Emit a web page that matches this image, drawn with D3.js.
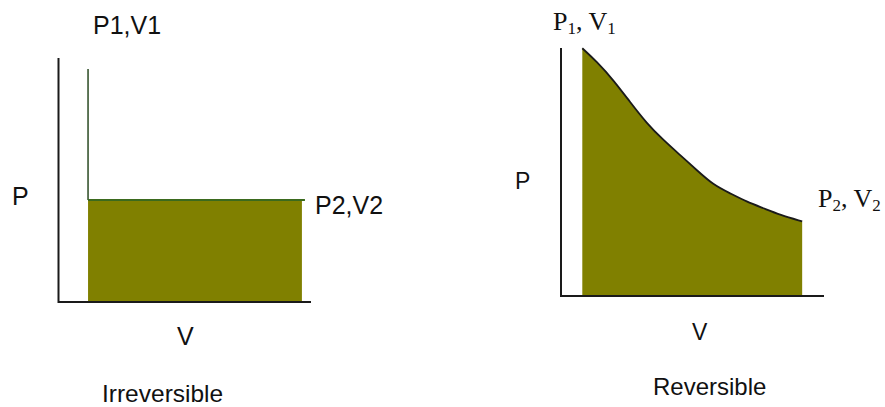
<!DOCTYPE html>
<html>
<head>
<meta charset="utf-8">
<script src="https://cdn.jsdelivr.net/npm/d3@7"></script>
<style>
  html, body { margin: 0; padding: 0; background: #fff; }
  svg { display: block; }
  .sans { font-family: "Liberation Sans", Arial, sans-serif; fill: #111; }
  .serif { font-family: "Liberation Serif", "Times New Roman", serif; fill: #111; }
</style>
</head>
<body>
<svg id="chart" width="885" height="407"></svg>
<script>
// ---- Data (arbitrary units 0..100) ----
// Irreversible expansion: sudden pressure drop at V1, then constant P2 to V2
const irrevV1 = 11.7;
const irrevV2 = 96.4;
const irrevLineEnd = 97.6;
const irrevP1 = 95.5;
const irrevP2 = 41.8;

// Reversible expansion: curve from (V1,P1) to (V2,P2)
const revV = [8.1, 13.6, 19.9, 26.2, 32.6, 38.9, 45.2, 51.6, 57.9, 64.3, 70.6, 77.0, 83.3, 91.7];
const revP = [99.9, 94.5, 87.1, 78.3, 69.6, 62.9, 56.9, 50.8, 44.8, 41.4, 38.0, 35.4, 32.7, 30.1];

// Labels
const axisLabels = { p: "P", v: "V" };
const titles = ["Irreversible", "Reversible"];

const svg = d3.select("#chart");
const olive = "#808000";

// ---------- Left: Irreversible ----------
const xL = d3.scaleLinear().domain([0, 100]).range([58.5, 311]);
const yL = d3.scaleLinear().domain([0, 100]).range([302, 58]);
const gL = svg.append("g");

gL.append("rect")
  .attr("x", xL(irrevV1)).attr("y", yL(irrevP2))
  .attr("width", xL(irrevV2) - xL(irrevV1))
  .attr("height", yL(0) - yL(irrevP2))
  .attr("fill", olive);
gL.append("line")
  .attr("x1", xL(irrevV1)).attr("x2", xL(irrevV1))
  .attr("y1", yL(irrevP1)).attr("y2", yL(irrevP2))
  .attr("stroke", "#2a4a22").attr("stroke-width", 1.5);
gL.append("line")
  .attr("x1", xL(irrevV1)).attr("x2", xL(irrevLineEnd))
  .attr("y1", yL(irrevP2)).attr("y2", yL(irrevP2))
  .attr("stroke", "#3b6a1e").attr("stroke-width", 2);
gL.append("path")
  .attr("d", `M${xL(0)},${yL(100)}V${yL(0)}H${xL(100)}`)
  .attr("fill", "none").attr("stroke", "#1a1a1a").attr("stroke-width", 2);

gL.append("text").attr("class", "sans").attr("x", 93).attr("y", 34)
  .attr("font-size", 25).text("P1,V1");
gL.append("text").attr("class", "sans").attr("x", 315).attr("y", 214)
  .attr("font-size", 25).text("P2,V2");
gL.append("text").attr("class", "sans").attr("x", 12).attr("y", 205)
  .attr("font-size", 25).text(axisLabels.p);
gL.append("text").attr("class", "sans").attr("x", 177).attr("y", 345)
  .attr("font-size", 25).text(axisLabels.v);
gL.append("text").attr("class", "sans").attr("x", 102).attr("y", 402)
  .attr("font-size", 24.5).text(titles[0]);

// ---------- Right: Reversible ----------
const xR = d3.scaleLinear().domain([0, 100]).range([561, 824]);
const yR = d3.scaleLinear().domain([0, 100]).range([296, 48]);
const gR = svg.append("g");
const pts = revV.map((v, i) => [v, revP[i]]);

const area = d3.area()
  .x(d => xR(d[0])).y0(yR(0)).y1(d => yR(d[1]))
  .curve(d3.curveBasis);
gR.append("path").datum(pts).attr("d", area).attr("fill", olive);

const line = d3.line()
  .x(d => xR(d[0])).y(d => yR(d[1]))
  .curve(d3.curveBasis);
gR.append("path").datum(pts).attr("d", line)
  .attr("fill", "none").attr("stroke", "#1a1a1a").attr("stroke-width", 1.8);

gR.append("path")
  .attr("d", `M${xR(0)},${yR(100)}V${yR(0)}H${xR(100)}`)
  .attr("fill", "none").attr("stroke", "#1a1a1a").attr("stroke-width", 2);

function subLabel(g, x, y, a, b) {
  const t = g.append("text").attr("class", "serif").attr("x", x).attr("y", y).attr("font-size", 26);
  t.append("tspan").text("P");
  t.append("tspan").attr("font-size", 17).attr("dy", 4).text(a);
  t.append("tspan").attr("dy", -4).text(", V");
  t.append("tspan").attr("font-size", 17).attr("dy", 4).text(b);
}
subLabel(gR, 553, 30, "1", "1");
subLabel(gR, 818, 207, "2", "2");

gR.append("text").attr("class", "sans").attr("x", 515).attr("y", 189)
  .attr("font-size", 23).text(axisLabels.p);
gR.append("text").attr("class", "sans").attr("x", 692).attr("y", 340)
  .attr("font-size", 23).text(axisLabels.v);
gR.append("text").attr("class", "sans").attr("x", 653).attr("y", 395)
  .attr("font-size", 24).text(titles[1]);
</script>
</body>
</html>
